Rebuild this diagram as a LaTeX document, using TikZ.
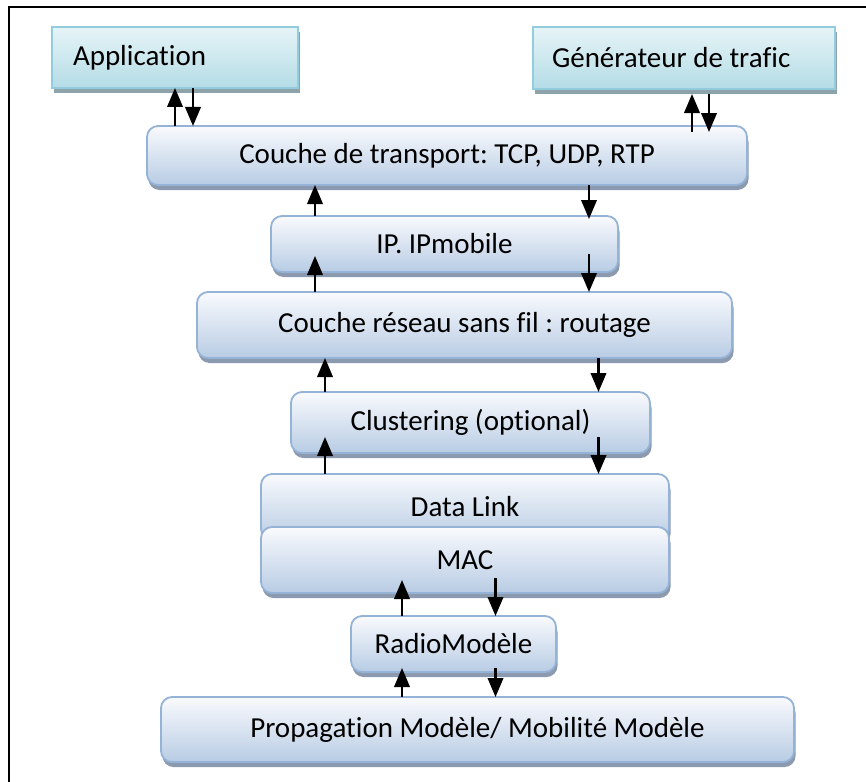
\documentclass[tikz,border=0pt]{standalone}
\usepackage{fontspec}
\setmainfont{Carlito}[Ligatures=NoCommon]
\usetikzlibrary{arrows.meta,shadows}

\definecolor{layertop}{HTML}{F9FAFD}
\definecolor{layerbot}{HTML}{B8CCE4}
\definecolor{layerline}{HTML}{95B3D7}
\definecolor{layershade}{HTML}{8C9AAF}
\definecolor{apptop}{HTML}{E6F4F7}
\definecolor{appbot}{HTML}{B4DCE6}
\definecolor{appline}{HTML}{93CDDD}
\definecolor{appshade}{HTML}{8DA3A9}

\newcommand\boxfont{\fontsize{29}{34}\selectfont\frenchspacing}

\tikzset{
  layer/.style={draw=layerline, line width=1.8pt, rounded corners=11pt,
    top color=layertop, bottom color=layerbot, inner sep=0pt, outer sep=0pt,
    font=\boxfont,
    drop shadow={shadow xshift=1.5pt, shadow yshift=-5pt, fill=layershade, opacity=1}},
  topbox/.style={draw=appline, line width=1.8pt,
    top color=apptop, bottom color=appbot, inner sep=0pt, outer sep=0pt,
    font=\boxfont,
    drop shadow={shadow xshift=1.5pt, shadow yshift=-5pt, fill=appshade, opacity=1}},
  arr/.style={line width=2.2pt, -{Triangle[length=19pt,width=15.5pt]}}
}

\begin{document}
\begin{tikzpicture}[x=1pt,y=-1pt]
\useasboundingbox (0,0) rectangle (866,781);

% page frame
\draw[line width=2.2pt] (9,790) -- (9,7) -- (875,7);

% upper applications (text set flush left inside the box)
\node[topbox, minimum width=246pt, minimum height=61pt] (app) at (175,57.5)
  {\makebox[204pt][l]{Application}};
\node[topbox, minimum width=302pt, minimum height=62pt] (gen) at (684,58)
  {\makebox[264pt][l]{Générateur de trafic}};

% protocol stack
\node[layer, minimum width=600pt, minimum height=59pt] (tr) at (447,155.5) {Couche de transport: TCP, UDP, RTP};
\node[layer, minimum width=347pt, minimum height=56pt] (ip) at (444.5,244) {IP. IPmobile};
\node[layer, minimum width=535pt, minimum height=66pt] (res) at (464.5,325) {Couche réseau sans fil : routage};
\node[layer, minimum width=359pt, minimum height=61pt] (clu) at (470.5,422.5) {Clustering (optional)};
\node[layer, minimum width=408pt, minimum height=66pt] (dl) at (465,507) {Data Link};
\node[layer, minimum width=408pt, minimum height=66pt] (mac) at (465,560) {MAC};
\node[layer, minimum width=205pt, minimum height=56pt] (radio) at (453.5,644) {RadioModèle};
\node[layer, minimum width=633pt, minimum height=65pt] (prop) at (477.5,729.5) {Propagation Modèle/ Mobilité Modèle};

% arrow columns
\coordinate (a1) at (175,0);
\coordinate (a2) at (193,0);
\coordinate (g1) at (692,0);
\coordinate (g2) at (709,0);
\coordinate (u1) at (315,0);
\coordinate (d1) at (589,0);
\coordinate (u2) at (325,0);
\coordinate (d2) at (598.5,0);
\coordinate (u3) at (402,0);
\coordinate (d3) at (495.5,0);

% application <-> transport
\draw[arr] (tr.north -| a1) -- (app.south -| a1);
\draw[arr] (app.south -| a2) -- (tr.north -| a2);
\draw[arr] ([yshift=-6pt]tr.north -| g1) -- ([yshift=-5pt]gen.south -| g1);
\draw[arr] ([yshift=-5pt]gen.south -| g2) -- ([yshift=-6pt]tr.north -| g2);

% transport <-> IP
\draw[arr] (ip.north -| u1) -- (tr.south -| u1);
\draw[arr] (tr.south -| d1) -- ([yshift=-3pt]ip.north -| d1);

% IP <-> routing
\draw[arr] (res.north -| u1) -- ([yshift=16pt]ip.south -| u1);
\draw[arr] ([yshift=18pt]ip.south -| d1) -- (res.north -| d1);

% routing <-> clustering
\draw[arr] (clu.north -| u2) -- (res.south -| u2);
\draw[arr] (res.south -| d2) -- (clu.north -| d2);

% clustering <-> data link
\draw[arr] (dl.north -| u2) -- ([yshift=16pt]clu.south -| u2);
\draw[arr] ([yshift=16pt]clu.south -| d2) -- (dl.north -| d2);

% MAC <-> radio
\draw[arr] (radio.north -| u3) -- ([yshift=13pt]mac.south -| u3);
\draw[arr] ([yshift=15pt]mac.south -| d3) -- (radio.north -| d3);

% radio <-> propagation
\draw[arr] (prop.north -| u3) -- ([yshift=4pt]radio.south -| u3);
\draw[arr] ([yshift=4pt]radio.south -| d3) -- (prop.north -| d3);
\end{tikzpicture}
\end{document}
